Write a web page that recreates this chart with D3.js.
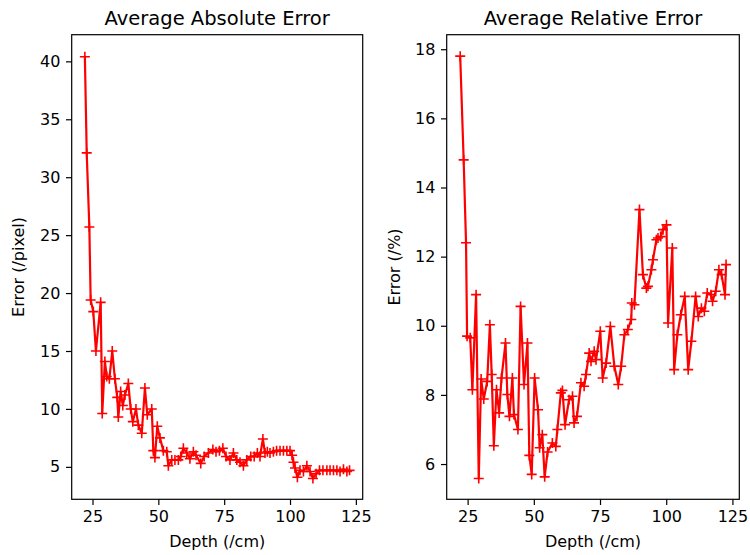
<!DOCTYPE html>
<html>
<head>
<meta charset="utf-8">
<script src="https://cdn.jsdelivr.net/npm/d3@7"></script>
<style>
  body { margin: 0; background: #fff; }
  svg { display: block; font-family: "DejaVu Sans", sans-serif; }
</style>
</head>
<body>
<svg width="750" height="555"></svg>
<script>
// depth (cm) / absolute error (pixel)
const absDepth = [22.1, 22.8, 23.8, 24.3, 25.3, 26.3, 28.1, 28.7, 29.7, 30.4, 31.4, 32.5, 33.5, 34.4, 34.8,
  35.7, 36.5, 37.3, 38.6, 39.5, 40.3, 41.5, 42.4, 43.7, 44.9, 45.8, 47.5, 48.1, 48.7, 49.6, 50.6, 51.9,
  53.2, 53.8, 55.1, 56.3, 57.6, 58.5, 59.5, 60.8, 62, 63.3, 64.3, 66.1, 67.4, 69, 70.7, 71.9, 73.2, 74.5,
  75.7, 77.2, 78.5, 79.8, 81, 82.3, 83.6, 85.1, 86.4, 87.6, 88.6, 89.7, 90.5, 91.4, 92.4, 93.7, 94.9,
  96.2, 97.5, 98.8, 100, 100.8, 101.3, 101.9, 102.8, 103.8, 105.1, 106.4, 107.6, 108.7, 109.9, 111.2,
  112.5, 114, 115.2, 116.5, 117.8, 119, 120.3, 121.6, 122.6];
const absError = [40.4, 32.1, 25.7, 19.4, 18.4, 15.0, 19.2, 9.6, 14.1, 12.8, 12.6, 15.0, 12.6, 11.0, 9.3,
  11.5, 10.3, 11.2, 12.2, 10.0, 8.9, 10.0, 8.6, 7.9, 11.8, 9.5, 10.0, 6.4, 5.8, 8.5, 7.5, 6.4,
  6.3, 5.1, 5.6, 5.6, 5.6, 5.9, 6.6, 6.2, 5.7, 6.3, 6.0, 5.3, 5.9, 6.2, 6.5, 6.3, 6.4, 6.6,
  5.9, 5.6, 6.2, 5.6, 5.4, 5.1, 5.6, 5.9, 5.9, 6.2, 5.9, 7.4, 6.2, 6.3, 6.2, 6.3, 6.4,
  6.4, 6.4, 6.4, 6.4, 6.0, 5.4, 4.9, 4.1, 4.7, 4.6, 5.1, 4.6, 4.0, 4.4, 4.7,
  4.7, 4.7, 4.7, 4.7, 4.7, 4.6, 4.8, 4.6, 4.7];

// depth (cm) / relative error (%)
const relDepth = [22.2, 23.5, 24.4, 24.8, 26, 26.8, 28.2, 29.2, 30.1, 31.1, 32.4, 33.4, 34.1, 34.9, 35.9,
  36.9, 37.8, 39.3, 40, 40.8, 41.9, 42.5, 44, 45, 46.3, 47.6, 48.3, 49.2, 50.3, 51.6, 52.2, 53.2, 54.1,
  55.2, 57, 58.3, 58.9, 60.2, 60.8, 61.8, 63.3, 64.6, 65.2, 66.3, 67.8, 69, 69.7, 70.9, 71.6, 72.8, 73.5,
  75.1, 76, 77.3, 78.9, 80.4, 81.9, 83, 84.2, 85.5, 86.8, 87, 88, 89.9, 91.2, 92.5, 93.1, 94.4, 95,
  96.3, 96.9, 97.9, 98.8, 100.1, 100.7, 102.3, 103, 104.2, 105.5, 107, 108.3, 109.5, 111.1, 112.1,
  113.3, 114.4, 115.5, 116.9, 117.5, 118.7, 119.9, 120.9, 122.2, 122.6];
const relError = [17.8, 14.8, 12.4, 9.7, 9.65, 8.15, 10.9, 5.58, 8.46, 7.88, 8.39, 10.03, 8.59, 6.53, 8.15,
  7.48, 8.49, 9.5, 8.01, 7.38, 8.49, 7.43, 7.0, 10.56, 8.3, 9.5, 6.25, 5.7, 8.49, 7.57, 6.47, 6.85, 5.63,
  6.35, 6.61, 6.51, 7.0, 8.06, 8.13, 7.14, 7.86, 7.96, 7.19, 7.38, 8.35, 8.25, 8.59, 9.21, 8.97, 9.26, 9.02,
  9.84, 8.49, 8.92, 9.98, 8.83, 8.30, 8.83, 9.74, 9.89, 10.18, 10.66, 10.61, 13.36, 11.48, 11.09, 11.14, 11.62, 11.91,
  12.49, 12.54, 12.58, 12.78, 12.92, 10.08, 12.25, 8.73, 9.74, 10.32, 10.85, 8.73, 9.55, 10.85, 10.27,
  10.51, 10.42, 10.95, 10.90, 10.71, 11.0, 11.62, 11.48, 10.90, 11.77];

const depthTicks = [25, 50, 75, 100, 125];
const absTicks = [5, 10, 15, 20, 25, 30, 35, 40];
const relTicks = [6, 8, 10, 12, 14, 16, 18];

const svg = d3.select('svg');
const plotTop = 34.7, plotBottom = 499.3;
const tickLen = 5.7, tickPad = 5.7;

const panels = [
  {title: 'Average Absolute Error', ylabel: 'Error (/pixel)', left: 71.7, right: 362.7,
   xs: absDepth, ys: absError, xDomain: [17.1, 127.6], yDomain: [2.2, 42.3], yTicks: absTicks, ylabelX: 24},
  {title: 'Average Relative Error', ylabel: 'Error (/%)', left: 446.7, right: 739.3,
   xs: relDepth, ys: relError, xDomain: [17.1, 127.6], yDomain: [4.98, 18.42], yTicks: relTicks, ylabelX: 400}
];

panels.forEach(p => {
  const x = d3.scaleLinear().domain(p.xDomain).range([p.left, p.right]);
  const y = d3.scaleLinear().domain(p.yDomain).range([plotBottom, plotTop]);
  const pts = p.xs.map((d, i) => [d, p.ys[i]]);

  const g = svg.append('g');

  const xAxis = g.append('g')
    .attr('transform', `translate(0,${plotBottom})`)
    .call(d3.axisBottom(x).tickValues(depthTicks).tickSize(tickLen).tickPadding(tickPad));
  const yAxis = g.append('g')
    .attr('transform', `translate(${p.left},0)`)
    .call(d3.axisLeft(y).tickValues(p.yTicks).tickSize(tickLen).tickPadding(tickPad));

  [xAxis, yAxis].forEach(a => {
    a.select('.domain').remove();
    a.attr('font-family', null).attr('font-size', null);
    a.selectAll('.tick line').attr('stroke', '#000').attr('stroke-width', 1.2);
    a.selectAll('.tick text').attr('fill', '#000').style('font-size', '16px');
  });

  // the line and '+' markers
  g.append('path')
    .datum(pts)
    .attr('fill', 'none')
    .attr('stroke', '#ff0000')
    .attr('stroke-width', 2.2)
    .attr('stroke-linejoin', 'round')
    .attr('d', d3.line().x(d => x(d[0])).y(d => y(d[1])));

  const m = 5;
  g.append('g').selectAll('path')
    .data(pts)
    .enter().append('path')
      .attr('stroke', '#ff0000')
      .attr('stroke-width', 1.6)
      .attr('d', d => {
        const cx = x(d[0]), cy = y(d[1]);
        return `M${cx - m},${cy}H${cx + m}M${cx},${cy - m}V${cy + m}`;
      });

  // frame
  g.append('rect')
    .attr('x', p.left).attr('y', plotTop)
    .attr('width', p.right - p.left).attr('height', plotBottom - plotTop)
    .attr('fill', 'none').attr('stroke', '#000').attr('stroke-width', 1.2);

  g.append('text')
    .attr('x', (p.left + p.right) / 2).attr('y', 25)
    .attr('text-anchor', 'middle')
    .style('font-size', '19.5px')
    .text(p.title);

  g.append('text')
    .attr('x', (p.left + p.right) / 2).attr('y', 547)
    .attr('text-anchor', 'middle')
    .style('font-size', '16px')
    .text('Depth (/cm)');

  g.append('text')
    .attr('transform', `translate(${p.ylabelX},${(plotTop + plotBottom) / 2}) rotate(-90)`)
    .attr('text-anchor', 'middle')
    .style('font-size', '16px')
    .text(p.ylabel);
});
</script>
</body>
</html>
